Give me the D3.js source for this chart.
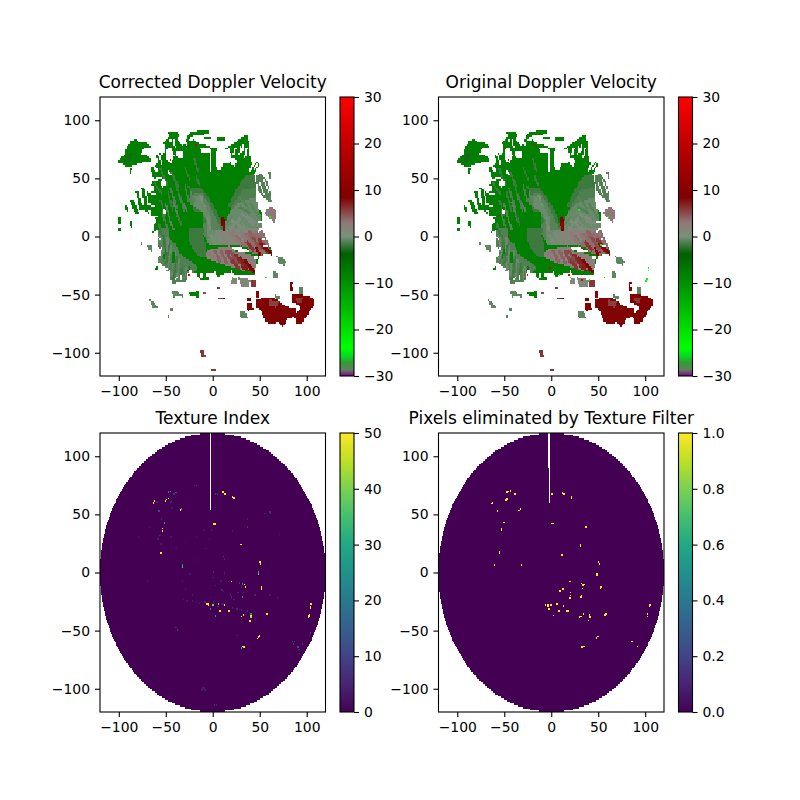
<!DOCTYPE html>
<html lang="en">
<head>
<meta charset="UTF-8">
<title>Texture filter on Doppler velocity</title>
<script src="https://d3js.org/d3.v7.min.js"></script>
<style>
  body { margin: 0; background: #fff; }
  text { font-family: "DejaVu Sans", sans-serif; fill: #000; }
</style>
</head>
<body>
<script>
// km ticks, shared by all four panels
const kmTicks = [-100, -50, 0, 50, 100];
const velTicks = [-30, -20, -10, 0, 10, 20, 30];
const texTicks = [0, 10, 20, 30, 40, 50];
const maskTicks = [0, 0.2, 0.4, 0.6, 0.8, 1];
const titles = ["Corrected Doppler Velocity", "Original Doppler Velocity", "Texture Index", "Pixels eliminated by Texture Filter"];

// velocity colour map (m/s -> colour)
const velStops = [-30, -28.7, -27, -25.5, -24, -10, -3.7, 0, 3, 8.4, 20, 30];
const velColors = ["#800090", "#5f7f60", "#30a030", "#00e020", "#00ff00", "#009000", "#006000", "#78907a", "#907878", "#800000", "#c00000", "#ff0000"];

// echo regions as [velocity, outline in km]; later ones paint over earlier ones
const bodyPatches = [
  [-7.8, [[-66,59],[-60,61],[-57,66],[-50,73],[-52,80],[-46,86],[-48,90],[-38,90],[-36,87],[-38,84],[-32,78],[-25,89],[-18,90],[-14,92],[-4,91],[-5,88],[-21,87],[-18,81],[-9,79],[-2,77],[4,76],[11,74],[20,79],[27,83],[34,87],[38,86],[39,71],[43,60],[48,65],[50,61],[44,54],[46,43],[46,34],[46,26],[53,20],[53,6],[62,-11],[64,-15],[50,-16],[48,-22],[46,-26],[45,-33],[30,-31],[25,-30],[11,-30],[12,-33],[7,-34],[-4,-33],[-5,-37],[-14,-37],[-18,-31],[-27,-31],[-28,-39],[-43,-40],[-46,-33],[-43,-30],[-52,-26],[-59,-20],[-55,-14],[-59,-7],[-59,6],[-64,3],[-63,10],[-59,14],[-66,19],[-71,40],[-67,37],[-64,51]]],
  [-7.8, [[-101,64],[-98,68],[-94,70],[-92,76],[-88,82],[-82,84],[-78,81],[-68,80],[-66,77],[-72,76],[-75,75],[-76,71],[-71,70],[-67,69],[-66,64],[-74,64],[-82,62],[-90,59],[-96,62]]],
  [-3, [[-94,65],[-90,72],[-86,72],[-88,65]]],
  [-7.8, [[-94,26],[-92,27],[-89,22],[-91,20]]],
  [-7.8, [[-88,31],[-84,32],[-78,20],[-82,19]]],
  [-7.8, [[-82,39],[-79,40],[-75,25],[-78,24]]],
  [-7.8, [[-76,42],[-73,42],[-68,20],[-72,21]]],
  [-7.8, [[-78,27],[-68,28],[-66,22],[-78,22]]],
  [-7.8, [[-101,16],[-98,16],[-98,11],[-101,11]]],
  [-7.8, [[-100,7],[-98,7],[-98,4],[-100,4]]],
  [-7.8, [[-89,13],[-86,13],[-86,8],[-89,9]]],
  [-7.8, [[-60,70],[-56,72],[-53,67],[-58,64]]],
  [-7.8, [[4,85],[13,86],[13,82],[4,83]]],
  [-7.8, [[-10,86],[-2,86],[-2,84],[-9,83]]],
  [-7.8, [[18,78],[24,80],[26,76],[18,75]]],
  [-7.8, [[-88,58],[-86,58],[-87,54],[-89,54]]]
];
const midPatches = [
  [-1.2, [[-59,6],[-50,8],[-44,5],[-40,-5],[-35,-15],[-22,-22],[-14,-26],[-20,-31],[-27,-31],[-28,-39],[-43,-40],[-46,-33],[-43,-30],[-52,-26],[-59,-20],[-55,-14],[-59,-7]]],
  [-1.8, [[-25,8],[-12,8],[-8,-6],[-6,-18],[-14,-18],[-22,-10],[-26,-2]]],
  [-1.8, [[16,26],[26,42],[34,52],[44,54],[47,40],[46,34],[40,28],[28,24]]],
  [-1.3, [[15,16],[22,28],[32,40],[46,42],[46,34],[42,28],[30,24]]],
  [-0.5, [[12,6],[16,18],[26,28],[38,32],[46,34],[50,20],[53,6],[40,4],[24,4]]],
  [-1.8, [[-25,42],[-12,42],[-6,36],[4,22],[12,4],[10,-2],[-4,-6],[-12,4],[-10,12],[-20,22]]],
  [-1.0, [[-24,38],[-12,38],[-5,30],[2,18],[8,8],[10,0],[-4,-6],[-10,2],[-8,14],[-16,24],[-24,28]]],
  [-0.4, [[-20,34],[-11,34],[-6,26],[-1,16],[-2,8],[2,2],[4,-6],[-5,-8],[-7,4],[-6,14],[-12,22],[-20,26]]],
  [-0.2, [[2,6],[14,6],[24,4],[24,-8],[2,-8]]],
  [-7.8, [[-46,10],[-34,12],[-30,0],[-38,-8],[-46,-2]]],
  [-8.2, [[-21,21],[-11,21],[-11,13],[-18,11],[-22,15]]],
  [-7.8, [[-38,8],[-32,8],[-26,-8],[-18,-15],[-6,-22],[8,-25],[18,-27],[30,-30],[45,-31],[45,-33],[28,-33],[12,-31],[-4,-31],[-14,-28],[-24,-21],[-32,-12]]]
];
const redPatches = [
  [1.5, [[8,4],[24,8],[40,8],[53,6],[56,0],[60,-8],[50,-12],[40,-6],[20,-8],[6,-6]]],
  [3.5, [[24,2],[48,4],[56,-2],[62,-12],[52,-16],[40,-14],[38,-10],[30,-8]]],
  [2, [[-6,-12],[2,-10],[20,-9],[24,-13],[40,-15],[47,-20],[46,-26],[45,-31],[30,-29],[14,-25],[0,-21],[-8,-18]]],
  [8.6, [[10,18],[13,14],[14,8],[12,3],[10,8],[9,14]]],
  [14, [[10.5,12],[12,12],[12.5,7],[11,7]]]
];
const fringePatches = [
  [-1.2, [[46,52],[52,54],[58,48],[62,36],[60,30],[54,34],[48,40]]],
  [-1, [[59,56],[62,54],[62,50],[60,50]]],
  [3, [[58,24],[64,26],[68,20],[66,12],[60,16],[56,20]]],
  [-0.8, [[68,-17],[74,-18],[78,-22],[76,-25],[70,-24]]],
  [-0.8, [[64,-30],[68,-31],[70,-36],[65,-36]]],
  [1, [[27,-35],[36,-36],[40,-38],[38,-44],[30,-43]]],
  [6, [[40,-37],[46,-38],[46,-44],[41,-44]]],
  [1, [[20,-37],[26,-36],[26,-40],[20,-40]]],
  [-0.8, [[-44,-46],[-38,-47],[-33,-51],[-42,-52]]],
  [-7.8, [[-25,-48],[-15,-47],[-15,-52],[-24,-51]]],
  [-0.8, [[-68,-54],[-63,-56],[-58,-62],[-64,-61]]],
  [-0.8, [[-45,-62],[-41,-61],[-42,-65],[-46,-65]]],
  [-0.8, [[-48,-68],[-46,-68],[-46,-70],[-48,-70]]],
  [-0.8, [[-35,-49],[-32,-49],[-32,-52]]],
  [5, [[-11,-48],[-8,-48],[-8,-49.5],[-11,-49.5]]],
  [6, [[4,-43],[8,-43],[8,-45],[4,-45]]],
  [6, [[6,-52],[11,-52],[11,-53.5],[6,-53.5]]],
  [9, [[11,-53],[14,-53],[14,-54.5],[11,-54.5]]],
  [8.2, [[47,-54],[52,-53],[64,-52],[73,-57],[78,-60],[88,-62],[90,-68],[80,-71],[75,-78],[71,-74],[60,-75],[56,-73],[52,-64],[46,-60]]],
  [5.5, [[60,-54],[70,-56],[68,-61],[60,-60]]],
  [8.6, [[84,-50],[95,-50],[102,-51],[107,-53],[108,-59],[102,-66],[96,-74],[90,-76],[87,-69],[94,-62],[90,-58],[84,-56]]],
  [6, [[88,-52],[96,-52],[94,-57],[90,-57]]],
  [8.6, [[35,-58],[42,-57],[43,-63],[37,-64]]],
  [9, [[36,-53],[41,-53],[41,-55],[36,-55]]],
  [8, [[46,-47],[49,-47],[49,-53],[46,-53]]],
  [9, [[82,-39],[85,-39],[85,-41],[84,-41],[86,-46],[82,-46]]],
  [-0.8, [[91,-43],[96,-43],[96,-49],[92,-49]]],
  [-0.8, [[28,-65],[34,-64],[37,-70],[30,-71]]],
  [-0.8, [[66,-50],[72,-51],[73,-54],[67,-54]]],
  [-0.8, [[-70,-8],[-64,-8],[-65,-13],[-69,-12]]],
  [-0.8, [[-76,-4],[-75,-4],[-75,-7],[-76,-7]]],
  [-0.8, [[-59,-20],[-56,-20],[-56,-22],[-59,-22]]],
  [-7.8, [[-62,-29],[-58,-28],[-58,-25]]],
  [6, [[-14,-98],[-9,-98],[-8,-103],[-12,-103]]],
  [6, [[-2,-114],[3,-114],[3,-116],[-2,-116]]]
];
// gaps inside the echo (no velocity)
const holePatches = [
  [[-50,75],[-44,77],[-41,70],[-44,63],[-49,66]],
  [[-39,74],[-31,74],[-31,68],[-38,67]],
  [[-13,77],[-3,77],[-3,72],[-12,72]],
  [[3,74],[18,76],[20,64],[11,63],[8,57],[4,58],[3,64]],
  [[19,68],[26,66],[24,60],[20,62]],
  [[-56,48],[-51,50],[-49,44],[-54,42]],
  [[21,-9],[30,-9],[38,-12],[40,-14],[32,-14],[24,-12]],
  [[44,-16],[48,-16],[47,-20],[44,-20]],
  [[-2.8,75],[-1.5,75],[-1.5,55],[-2.8,55]],
  [[-8,-31],[2,-32],[-2,-35],[-8,-35]],
  [[-66,42],[-64,44],[-63,40],[-65,38]],
  [[-52,24],[-50,23],[-50,19],[-53,20]],
  [[30,76],[33,80],[33,74],[30,72]],
  [[-64,62],[-60,60],[-58,56],[-62,56]],
  [[-24,86],[-20,85],[-22,82],[-26,82]],
  [[-46,84],[-43,85],[-43,81],[-46,81]]
];
// thin radial streaks: [velocity or null, x1, y1, x2, y2, width] in km
const streaks = [
  // mottling left of the swirl
  [-1.8,-48,38,-42,22,2],[-1.3,-45,42,-38,24,2],[-1.8,-40,46,-33,30,2],[-1.3,-36,36,-30,22,2],[-1.3,-30,44,-25,30,2],[-1.8,-26,44,-20,36,2],[-1,-42,30,-36,14,2],[-1.8,-38,20,-33,10,2],[-1,-50,28,-44,10,2],[-1.3,-54,22,-48,6,2],[-1.8,-56,32,-50,18,2],[-1,-47,18,-42,6,2],[-1.8,-58,12,-54,0,2],[-1,-31,28,-27,22,2],[-0.8,-24,38,-18,30,2],[-1.8,-62,46,-54,36,2],[-1.8,-44,55,-36,42,2],[-1.8,-30,60,-24,48,2],[-1.8,-18,52,-14,44,2],[-1.8,-56,58,-48,44,2],[-1.8,-20,68,-16,56,2],
  // lower left swath
  [-0.5,-56,2,-54,-14,2],[-1.8,-52,2,-50,-16,2],[-0.5,-48,0,-48,-18,2],[-1.8,-46,-6,-50,-24,2],[-0.5,-44,-8,-48,-30,2],[-0.6,-40,-12,-44,-34,2],[-1.8,-38,-16,-42,-38,2],[-0.5,-36,-20,-38,-38,2],[-1.8,-32,-22,-34,-36,2],[-0.5,-28,-26,-30,-36,2],[-7.8,-50,-10,-52,-20,1.6],[-7.8,-42,-14,-42,-22,1.6],[-3,-24,-26,-26,-30,2],[-0.4,-52,-12,-56,-20,2],
  // swirl and east side
  [0.3,-14,36,-6,24,2.5],[-0.8,-10,32,-3,20,2.5],[0.6,-6,16,-2,4,2.5],[-1,-9,10,-6,-2,2.5],[0.5,-2,2,2,-8,2.5],[0.8,4,6,10,-6,2.5],[-0.8,14,10,22,18,2.5],[0.3,18,6,30,16,2.5],[-1.2,28,26,40,20,2.5],[0.5,36,18,48,10,2.5],[-1,40,28,50,16,2.5],[1.2,26,4,36,-2,2.5],[1,14,2,22,-6,2.5],[1.5,10,-2,18,-8,2.5],[-0.2,30,12,38,6,2.5],
  [0.5,30,20,44,10,2.5],[0.3,20,14,34,6,2.5],[-1,28,34,38,24,2.5],[-0.8,60,34,62,30,2],
  // east red lobe
  [3,20,4,30,-8,3],[3,30,4,38,-6,3],[4,38,6,46,-6,3],[5,42,0,52,-12,3],[6,48,-2,58,-12,3],[7.5,50,-6,60,-14,3],[8.2,54,-8,63,-15,2.5],[8.2,46,-9,50,-16,2.5],[3.5,52,6,58,-6,2.5],[6,36,-4,44,-12,3],[1,26,6,32,-4,2.5],
  // lower red lobe
  [4,2,-12,8,-22,3],[4,8,-12,16,-24,3],[5,14,-12,22,-24,3],[5,18,-12,28,-24,3],[6.5,24,-15,34,-28,3],[7,28,-18,38,-28,3],[8,34,-20,44,-30,3],[8.2,38,-24,44,-31,2.5],[7,30,-26,40,-30,2.5],[3,-4,-14,2,-20,2.5],[6,20,-20,28,-28,3],
  // ragged edges
  [null,-42,84,-40,76,1.6],[null,-30,86,-28,78,1.6],[null,-12,86,-10,80,1.6],[null,-8,84,-6,78,1.6],[null,10,76,8,70,1.6],[null,24,76,22,70,1.6],[null,30,78,28,70,1.6],[null,36,76,34,68,1.6],[null,42,62,40,56,1.6],
  [null,-66,50,-58,48,1.6],[null,-68,38,-60,36,1.6],[null,-70,28,-62,26,1.6],[null,-64,16,-58,18,1.6],[null,-60,0,-56,-2,1.6],[null,-58,-12,-54,-10,1.6],
  [null,-40,-38,-38,-34,1.6],[null,-34,-38,-33,-33,1.6],[null,-24,-33,-24,-29,1.6],[null,-12,-36,-12,-32,1.6],[null,2,-33,2,-30,1.6],[null,20,-31,20,-28,1.6],
  [null,48,62,44,58,1.6],[null,54,14,48,12,1.6],[null,53,8,48,4,1.6],[null,56,-2,52,-2,1.6],[null,58,-8,54,-8,1.6],[null,-58,72,-54,62,1.6],[null,-48,56,-44,52,1.6],[null,-60,50,-54,50,1.6],[null,54,50,60,38,1.4],[null,50,46,55,36,1.4]
];
// single odd gates: [x km, y km, velocity]
const specks = [[-18.5,78,25],[-46,65,25],[-26,-34,25],[60,16,-24],[56,-36,-24],[20,-36,-24]];
// gates that only the uncorrected field still has
const originalSpecks = [[103,-30,-24],[103,-28,-24],[101,-37,-24],[100,-39,-24],[-56,17,25],[-46,-1,25],[34,-12,25],[51,-14,25],[40,-38,-24],[-2,-28,25],[8,-34,-24],[32,-38,25],[18,-34,25],[52,-8,-24],[29,22,-24]];

// texture index hits: [x km, y km, texture]
const textureHits = [
  [-64,59,50],[-63,61,50],[-51,61,50],[-50,62,50],[-48,63,50],[-35,53,50],[-34,54,28],[-54,35,50],[-54,37,50],[-56,15.5,50],[-56,16.5,50],[-55,16,50],
  [10,68.5,50],[11,68,50],[12.5,67,50],[20,64.5,50],[22,63.5,50],[0,41,50],[1.5,41,50],[29.5,23.4,50],[49.5,8,50],[50,6.5,50],[19,-8.6,50],[33,-11,50],[34,-13,50],[51,-13.5,50],[51,-15,50],
  [103,-30,50],[104,-28,50],[103.5,-31,50],[101,-39,50],[102,-37,50],[101.5,-38,50],[57,-36.6,50],[47,-57.5,50],[49,-55.5,50],[48,-56.5,50],[32.5,-65,50],[31,-64.5,50],[30,-38.5,50],[32,-37.5,50],[40,-37.7,50],[40,-39,45],[39,-42.3,50],
  [-7,-27.7,50],[-5,-29,50],[-0.5,-29,40],[5.5,-27.7,40],[12,-29,50],[7,-33.7,50],[16.7,-33.7,50],[-6,-28,50],
  [-33,5.4,28],[-33,4,35],[-46,69,25],[-48,68.5,20],[-52,42,25],[48,-2,38],[48,-0.5,30],[31,-10.5,20],[31,-22,25],[2,-38,25],[-3,-32,25],[30,-65.5,30],[40,-36.5,25]
];
const faintHits = [
  [-40,68,10],[-42,67,8],[-18,74,8],[-20,74,6],[2,66.8,8],[4,66.5,7],[-58,52,10],[36,38.6,8],[60,51,6],[61,50,6],[11,13,8],[12,11,6],[84,-60,10],[86,-60,8],[90,-65,12],[91,-67,8],[103,-53,8],[102,-55,6],
  [-40,-48,6],[-38,-50,6],[-11,-100,3],[-9,-102,3],[3,-115,6],[1,-115,6],[-92.5,71.6,4],[-59,28,5],[-57,31,5],[18,-20,6],[19,-22,6],[9,-16,5],[11,-17,5],[68,-23,3],
  [-28,-25,3],[-22,-25,4],[-15,-27,4],[-9,-26,6],[0,-26,5],[10,-28,5],[20,-31,5],[30,-33,5],[-80,30,2],[-40,20,3],[-70,-8,3],[-33,-8,3],[-30,-15,3],[-22,-20,3],[-25,-2,3],[0,-5,5],[2,-12,4],[12,0,3],[0,0,6],
  [28,-10,8],[30,-13,6],[32,-18,6],[8,-8,4],[70,32,3],[55,50,4],[25,-55,3],[-18,30,2],[-10,36,2],[-2,36,3],[20,35,3],[36,45,4],[-45,60,5],[-44,55,3],[-55,45,4],[-60,60,5],[-68,38,3],
  [-32,-24,3],[-18,-26,3],[-5,-27,5],[5,-30,5],[15,-30,6],[25,-32,6],[36,-34,6],[12,-2,3],[-8,20,2],[-4,28,2],[-20,10,2],[-30,25,2],[-45,30,3],[-56,24,3],[-10,-100,4],[-12,-102,3],[85,-62,6],[95,-62,5],[60,-20,3],[44,-20,5],[26,-18,5],[22,-24,5]
];
// gates removed by the filter: [x km, y km]
const filterHits = [
  [-46,69],[-48,68.6],[-44,69.4],[-39.5,67],[-63,59.4],[-64,58.6],[-48.8,61.7],[-47.7,62.6],[-58,52],[-35,52.6],[-33.5,54],[-51,42.3],[-53.7,35.7],[-53.4,36.9],[-56,15.7],[-56,16.8],[-61,5.4],[-32.7,5.4],
  [-0.7,66.6],[0.5,66.6],[11,67.4],[12.4,67],[13.5,66.9],[20.6,64.3],[21,63],[0,41.4],[1.4,41.4],[36.3,38.3],[30.2,23.4],[30.2,22],[10.7,14],[49.8,8],[50.5,6.8],[48,-2.6],[48,-1.5],[19.2,-8.6],
  [31.3,-10.3],[33,-11.7],[34,-11],[32.4,-14.6],[52,-13.4],[51.5,-14.5],[11.7,-14.9],[8.5,-16.9],[20,-18],[20,-20.6],[19,-22.6],[31.7,-21],[31,-22],
  [-6.8,-28.6],[-4.3,-28.9],[-3.2,-32],[-1,-28.6],[-4,-30],[5.3,-27.7],[12.5,-29.4],[7.5,-33.7],[17,-33.7],[15.8,-34],[1.8,-37.7],[29.5,-38.9],[31,-38.5],[33.5,-36.6],[40.2,-37],[40.6,-39],[39,-42],[57.6,-36.6],[56.5,-37],
  [104.3,-28.6],[104,-30],[101.8,-38.6],[102,-36.6],[48.8,-55.7],[47.3,-56.9],[32.7,-64.9],[31.5,-65],[34,-64.5],[85.4,-60],[91,-64.3]
];

const gate = 1.5, maxRange = 120;
// blocked ray in the lower panels: [top of ray km, left, right, lowest km]
const texSlit = [[120, -3, -1.4, 54]];
const maskSlit = [[120, -3.5, -1.4, 90], [90, -2.8, -1.4, 60]];

const panelW = 225.5, panelH = 279, barW = 14;
const panelX = [100, 438.5], panelY = [97, 433], barGap = 240;

const svg = d3.select("body").append("svg").attr("width", 800).attr("height", 800)
  .style("display", "block");

const x = d3.scaleLinear().domain([-120, 120]).range([0, panelW]);
const y = d3.scaleLinear().domain([-120, 120]).range([panelH, 0]);
const velColor = d3.scaleLinear().domain(velStops).range(velColors).clamp(true);
const texColor = d3.scaleSequential(d3.interpolateViridis).domain([0, 50]);
const maskColor = d3.scaleSequential(d3.interpolateViridis).domain([0, 1]);

// a streak is just a thin four corner patch
function streakPatch(s) {
  const dx = s[3] - s[1], dy = s[4] - s[2], len = Math.hypot(dx, dy);
  const nx = -dy / len * s[5] / 2, ny = dx / len * s[5] / 2;
  return [s[0], [[s[1] + nx, s[2] + ny], [s[3] + nx, s[4] + ny], [s[3] - nx, s[4] - ny], [s[1] - nx, s[2] - ny]]];
}

// rasterize the patches onto the radar gate grid, joining same-colour runs per row
const allPatches = bodyPatches.concat(midPatches, redPatches, fringePatches, streaks.map(streakPatch), holePatches.map(p => [null, p]));
function velocityRuns(extra) {
  const runs = [];
  d3.range(-120, 120, gate).forEach(gy => {
    let run = null;
    d3.range(-120, 120, gate).forEach(gx => {
      const c = [gx + gate / 2, gy + gate / 2];
      let v = null;
      allPatches.forEach(p => { if (d3.polygonContains(p[1], c)) v = p[0]; });
      if (v === null) { run = null; return; }
      const col = velColor(v);
      if (run && run.color === col) { run.x1 = gx + gate; return; }
      run = { x0: gx, x1: gx + gate, y0: gy, y1: gy + gate, color: col };
      runs.push(run);
    });
  });
  extra.forEach(s => runs.push({ x0: s[0], x1: s[0] + gate, y0: s[1], y1: s[1] + gate, color: velColor(s[2]) }));
  return runs;
}

// the full sweep disk with the blocked ray cut out
function diskRuns(color, slits) {
  const runs = [];
  d3.range(-120, 120, gate).forEach(gy => {
    const mid = gy + gate / 2;
    const hw = Math.sqrt(maxRange * maxRange - mid * mid);
    const s = slits.find(d => mid <= d[0] && mid > d[3]);
    if (s) {
      runs.push({ x0: -hw, x1: s[1], y0: gy, y1: gy + gate, color });
      runs.push({ x0: s[2], x1: hw, y0: gy, y1: gy + gate, color });
    } else {
      runs.push({ x0: -hw, x1: hw, y0: gy, y1: gy + gate, color });
    }
  });
  return runs;
}

function drawRuns(g, runs) {
  g.append("g").selectAll("rect").data(runs).enter().append("rect")
    .attr("x", d => x(d.x0))
    .attr("y", d => y(d.y1))
    .attr("width", d => x(d.x1) - x(d.x0))
    .attr("height", d => y(d.y0) - y(d.y1))
    .attr("fill", d => d.color)
    .attr("shape-rendering", "crispEdges");
}

function styleAxis(a) {
  a.selectAll("text").attr("font-size", 13.9).attr("font-family", "DejaVu Sans").attr("fill", "#000");
  a.selectAll("line").attr("stroke", "#000").attr("stroke-width", 1.1);
  a.select(".domain").remove();
}

function panel(i, j, runs, barColor, barDomain, barTicks, barFormat) {
  const left = panelX[j], top = panelY[i];
  const g = svg.append("g").attr("transform", `translate(${left},${top})`);
  drawRuns(g, runs);
  g.append("rect").attr("width", panelW).attr("height", panelH)
    .attr("fill", "none").attr("stroke", "#000").attr("stroke-width", 1.1);

  g.append("g").attr("transform", `translate(0,${panelH})`)
    .call(d3.axisBottom(x).tickValues(kmTicks).tickSize(5).tickPadding(5)).call(styleAxis);
  g.append("g").call(d3.axisLeft(y).tickValues(kmTicks).tickSize(5).tickPadding(5)).call(styleAxis);

  g.append("text").attr("x", panelW / 2).attr("y", -9).attr("text-anchor", "middle")
    .attr("font-size", 17).text(titles[i * 2 + j]);

  // colourbar
  const cb = d3.scaleLinear().domain(barDomain).range([panelH, 0]);
  const id = `bar${i}${j}`;
  const grad = svg.append("defs").append("linearGradient").attr("id", id)
    .attr("x1", 0).attr("y1", 1).attr("x2", 0).attr("y2", 0);
  const stopAt = barColor === velColor ? velStops : d3.range(0, 1.01, 0.1).map(t => barDomain[0] + t * (barDomain[1] - barDomain[0]));
  grad.selectAll("stop").data(stopAt).enter().append("stop")
    .attr("offset", d => (d - barDomain[0]) / (barDomain[1] - barDomain[0]))
    .attr("stop-color", d => barColor(d));
  const b = g.append("g").attr("transform", `translate(${barGap},0)`);
  b.append("rect").attr("width", barW).attr("height", panelH).attr("fill", `url(#${id})`)
    .attr("stroke", "#000").attr("stroke-width", 1.1);
  const axis = d3.axisRight(cb).tickValues(barTicks).tickSize(5).tickPadding(5);
  if (barFormat) axis.tickFormat(barFormat);
  b.append("g").attr("transform", `translate(${barW},0)`).call(axis).call(styleAxis);
}

const corrected = velocityRuns(specks);
const original = velocityRuns(specks.concat(originalSpecks));
const hitRuns = (hits, color) => hits.map(h => ({ x0: h[0], x1: h[0] + gate, y0: h[1], y1: h[1] + gate, color: color(h) }));

panel(0, 0, corrected, velColor, [-30, 30], velTicks);
panel(0, 1, original, velColor, [-30, 30], velTicks);
panel(1, 0, diskRuns(texColor(0), texSlit).concat(hitRuns(faintHits.concat(textureHits), h => texColor(h[2]))), texColor, [0, 50], texTicks);
panel(1, 1, diskRuns(maskColor(0), maskSlit).concat(hitRuns(filterHits, () => maskColor(1))), maskColor, [0, 1], maskTicks, d3.format(".1f"));
</script>
</body>
</html>
